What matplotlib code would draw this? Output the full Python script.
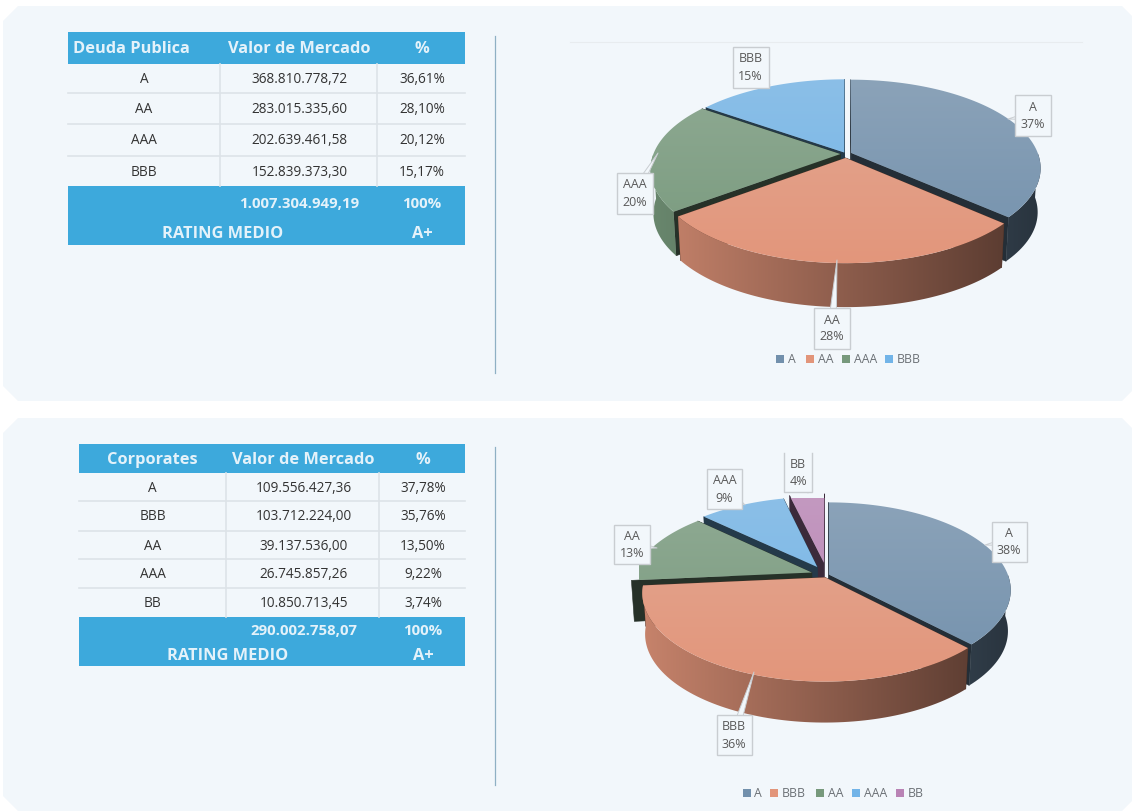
import matplotlib
matplotlib.use('Agg')
import matplotlib.pyplot as plt
import numpy as np
from matplotlib.patches import Rectangle, Polygon

plt.rcParams['font.family'] = ['Open Sans', 'DejaVu Sans']

# top table / pie
top_header = ['Deuda Publica', 'Valor de Mercado', '%']
top_ratings = ['A', 'AA', 'AAA', 'BBB']
top_values = [368810778.72, 283015335.60, 202639461.58, 152839373.30]
top_value_labels = ['368.810.778,72', '283.015.335,60', '202.639.461,58', '152.839.373,30']
top_pct_labels = ['36,61%', '28,10%', '20,12%', '15,17%']
top_total = ['1.007.304.949,19', '100%']
top_rating = ['RATING MEDIO', 'A+']
top_pie_labels = ['37%', '28%', '20%', '15%']

# bottom table / pie
bot_header = ['Corporates', 'Valor de Mercado', '%']
bot_ratings = ['A', 'BBB', 'AA', 'AAA', 'BB']
bot_values = [109556427.36, 103712224.00, 39137536.00, 26745857.26, 10850713.45]
bot_value_labels = ['109.556.427,36', '103.712.224,00', '39.137.536,00', '26.745.857,26', '10.850.713,45']
bot_pct_labels = ['37,78%', '35,76%', '13,50%', '9,22%', '3,74%']
bot_total = ['290.002.758,07', '100%']
bot_rating = ['RATING MEDIO', 'A+']
bot_pie_labels = ['38%', '36%', '13%', '9%', '4%']

BLUE = '#3DA9DC'
PANEL = '#F2F7FB'
HEAD_TXT = '#E4F2FA'
GREY_BLUE = '#7290AC'
SALMON = '#E2957A'
GREEN = '#77997C'
SKY = '#72B4E8'
PURPLE = '#B983B5'
COLORS_TOP = {'A': GREY_BLUE, 'AA': SALMON, 'AAA': GREEN, 'BBB': SKY}
COLORS_BOT = {'A': GREY_BLUE, 'BBB': SALMON, 'AA': GREEN, 'AAA': SKY, 'BB': PURPLE}

fig = plt.figure(figsize=(11.32, 8.11), dpi=100)
ax = fig.add_axes([0, 0, 1, 1])
ax.set_xlim(0, 1132)
ax.set_ylim(811, 0)
ax.axis('off')


def to_rgb(c):
    return np.array(matplotlib.colors.to_rgb(c))


def panel(x0, y0, x1, y1, c=15):
    pts = [(x0 + c, y0), (x1 - c, y0), (x1, y0 + c), (x1, y1 - c),
           (x1 - c, y1), (x0 + c, y1), (x0, y1 - c), (x0, y0 + c)]
    ax.add_patch(Polygon(pts, closed=True, fc=PANEL, ec='none', zorder=0))


def draw_table(x0, x1, col1, col2, ys, foot, header, head_x, ratings, vals, pcts, total, rating, rating_x):
    ax.add_patch(Rectangle((x0, foot[0]), x1 - x0, ys[0] - foot[0], fc=BLUE, ec='none', zorder=1))
    ax.add_patch(Rectangle((x0, ys[-1]), x1 - x0, foot[2] - ys[-1], fc=BLUE, ec='none', zorder=1))
    for y in ys[1:-1]:
        ax.plot([x0, x1], [y, y], color='#DDE3E8', lw=1.2, zorder=2)
    for x in (col1, col2):
        ax.plot([x, x], [ys[0], ys[-1]], color='#DDE3E8', lw=1.2, zorder=2)
    cx = [(x0 + col1) / 2, (col1 + col2) / 2 + 1, (col2 + x1) / 2 + 1]
    hy = (foot[0] + ys[0]) / 2
    for c, t in zip([head_x, cx[1], cx[2]], header):
        ax.text(c, hy + 1, t, ha='center', va='center', color=HEAD_TXT, fontsize=11.8,
                fontweight='bold', zorder=3)
    for i in range(len(ratings)):
        y = (ys[i] + ys[i + 1]) / 2 + 1
        ax.text(cx[0], y, ratings[i], ha='center', va='center', color='#333333', fontsize=9.8, zorder=3)
        ax.text(cx[1], y, vals[i], ha='center', va='center', color='#333333', fontsize=9.8, zorder=3)
        ax.text(cx[2], y, pcts[i], ha='center', va='center', color='#333333', fontsize=9.8, zorder=3)
    ty = (ys[-1] + foot[1]) / 2 + 1
    ry = (foot[1] + foot[2]) / 2 + 1
    ax.text(cx[1], ty, total[0], ha='center', va='center', color=HEAD_TXT, fontsize=10.8, fontweight='bold', zorder=3)
    ax.text(cx[2], ty, total[1], ha='center', va='center', color=HEAD_TXT, fontsize=10.8, fontweight='bold', zorder=3)
    ax.text(rating_x, ry, rating[0], ha='center', va='center', color=HEAD_TXT,
            fontsize=11.8, fontweight='bold', zorder=3)
    ax.text(cx[2], ry, rating[1], ha='center', va='center', color=HEAD_TXT, fontsize=11.8,
            fontweight='bold', zorder=3)


def project(u, v, g):
    # v > 0 is towards the viewer
    d = 1 - g['k'] * v
    return g['cx'] + g['rx'] * u / d, g['cy'] + g['ry'] * v / d


def gradient(poly, c0, c1, horizontal, z, extent):
    poly_patch = Polygon(poly, closed=True, fc='none', ec='none', zorder=z)
    ax.add_patch(poly_patch)
    t = np.linspace(0, 1, 64)
    rgb = (1 - t)[:, None] * c0 + t[:, None] * c1
    img = rgb[None, :, :] if horizontal else rgb[:, None, :]
    im = ax.imshow(img, extent=(extent[0], extent[1], extent[3], extent[2]), aspect='auto',
                   zorder=z, interpolation='bilinear')
    im.set_clip_path(poly_patch)


def draw_pie(values, names, colors, explode, g):
    total = sum(values)
    start = 0.0
    wedges = []
    for val, name, e in zip(values, names, explode):
        sweep = val / total * 2 * np.pi
        wedges.append((start, start + sweep, name, e))
        start += sweep

    xl = g['cx'] - g['rx'] * 1.05
    xr = g['cx'] + g['rx'] * 1.05
    z = 5
    for a0, a1, name, e in sorted(wedges, key=lambda w: -np.cos((w[0] + w[1]) / 2)):
        base = to_rgb(colors[name])
        mid = (a0 + a1) / 2
        ou, ov = e * np.sin(mid), -e * np.cos(mid)
        th = np.linspace(a0, a1, 90)
        tx, ty = project(ou + np.sin(th), ov - np.cos(th), g)
        ax_, ay_ = project(ou, ov, g)
        # bottom outline is the top one pushed down, a bit smaller
        bx = g['cx'] + (tx - g['cx']) * g['shrink']
        by = ty + g['depth']
        abx = g['cx'] + (ax_ - g['cx']) * g['shrink']
        aby = ay_ + g['depth']
        dark = base * 0.32
        # radial cut walls
        for (px, py, qx, qy) in ((tx[0], ty[0], bx[0], by[0]), (tx[-1], ty[-1], bx[-1], by[-1])):
            ax.add_patch(Polygon([(ax_, ay_), (px, py), (qx, qy), (abx, aby)], closed=True,
                                 fc=dark, ec=dark, lw=0.4, zorder=z))
        z += 1
        # outer wall
        keep = -np.cos(th) > 0.0
        if keep.sum() > 1:
            wall = np.column_stack([np.r_[tx[keep], bx[keep][::-1]], np.r_[ty[keep], by[keep][::-1]]])
            gradient(wall, base * 0.88, base * 0.36, True, z, (xl, xr, g['cy'] - 100, g['cy'] + 180))
        z += 1
        # top face
        face = np.column_stack([np.r_[ax_, tx], np.r_[ay_, ty]])
        top_col = base + (1 - base) * 0.2
        gradient(face, top_col * 0.98, base, False, z,
                 (xl, xr, g['cy'] - g['ry'] * 0.9, g['cy'] + g['ry'] * 1.4))
        z += 1


def label(name, pct, box_xy, tip, w=36, h=41, open_top=False):
    x, y = box_xy
    ax.annotate('', xy=tip, xytext=box_xy, zorder=59,
                arrowprops=dict(arrowstyle='wedge,tail_width=0.3,shrink_factor=0.5', mutation_scale=20,
                                fc=PANEL, ec='#C9CDD1', lw=0.7, shrinkA=0, shrinkB=0))
    ax.add_patch(Rectangle((x - w / 2, y - h / 2), w, h, fc=PANEL, ec='none', zorder=60))
    if open_top:
        ax.plot([x - w / 2, x - w / 2, x + w / 2, x + w / 2],
                [y - h / 2, y + h / 2, y + h / 2, y - h / 2], color='#C9CDD1', lw=1, zorder=61)
    else:
        ax.add_patch(Rectangle((x - w / 2, y - h / 2), w, h, fc='none', ec='#C9CDD1', lw=1, zorder=61))
    ax.text(x, y - 8, name, ha='center', va='center', color='#595959', fontsize=9, zorder=62)
    ax.text(x, y + 9, pct, ha='center', va='center', color='#595959', fontsize=9, zorder=62)


def legend(names, colors, xs, y):
    for name, x in zip(names, xs):
        ax.add_patch(Rectangle((x, y - 4), 8, 8, fc=colors[name], ec='none', zorder=4))
        ax.text(x + 11.5, y + 0.5, name, ha='left', va='center', color='#6B7075', fontsize=8.8, zorder=4)


panel(3, 6, 1137, 401)
panel(3, 418, 1137, 811)

draw_table(68, 465, 220, 377, [64, 93, 124, 156, 186], (32, 220, 245), top_header, 131,
           top_ratings, top_value_labels, top_pct_labels, top_total, top_rating, 223)
draw_table(79, 465, 226, 379, [473, 501, 531, 559, 588, 617], (444, 643, 666), bot_header, 152,
           bot_ratings, bot_value_labels, bot_pct_labels, bot_total, bot_rating, 228)

ax.plot([495, 495], [36, 373], color='#8FB0C4', lw=0.9, zorder=1)
ax.plot([495, 495], [447, 785], color='#8FB0C4', lw=0.9, zorder=1)
ax.plot([570, 1082], [42, 42], color='#E8ECEF', lw=0.8, zorder=1)

geo1 = dict(cx=846, cy=154, rx=187, ry=86, k=0.169, depth=44, shrink=0.985)
geo2 = dict(cx=827, cy=575, rx=179, ry=85, k=0.175, depth=41, shrink=0.985)
draw_pie(top_values, top_ratings, COLORS_TOP, [0.03, 0.045, 0.03, 0.02], geo1)
draw_pie(bot_values, bot_ratings, COLORS_BOT, [0.012, 0.03, 0.09, 0.11, 0.15], geo2)

label('A', top_pie_labels[0], (1032.5, 115.5), (1008, 119))
label('AA', top_pie_labels[1], (832, 328), (837, 260))
label('AAA', top_pie_labels[2], (634.5, 193), (658, 153))
label('BBB', top_pie_labels[3], (750.5, 67), (770, 85))

label('A', bot_pie_labels[0], (1009, 541.5), (985, 545), w=35, h=40)
label('BBB', bot_pie_labels[1], (734, 735), (754, 672), w=35, h=40)
label('AA', bot_pie_labels[2], (632, 544.5), (657, 548), w=36, h=39)
label('AAA', bot_pie_labels[3], (724.5, 489), (745, 505), w=35, h=40)
label('BB', bot_pie_labels[4], (798, 472.5), (808, 493), w=28, h=39, open_top=True)

legend(top_ratings, COLORS_TOP, [776, 806, 842, 885], 359)
legend(bot_ratings, COLORS_BOT, [743, 770, 816, 852, 896], 793)

fig.savefig('out.png', dpi=100, facecolor='white')
